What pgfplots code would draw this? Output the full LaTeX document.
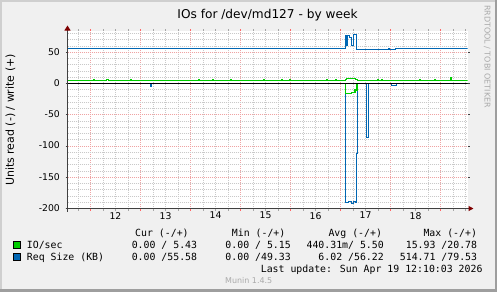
\documentclass[border=0pt]{standalone}
\usepackage{pgfplots}
\pgfplotsset{compat=1.18}
\usepackage{fontspec}
\setmainfont{DejaVu Sans}
\newfontfamily\monofont{DejaVu Sans Mono}
\usetikzlibrary{arrows.meta}
\definecolor{bgc}{HTML}{F0F0F0}
\definecolor{shadea}{HTML}{CFCFCF}
\definecolor{shadeb}{HTML}{9E9E9E}
\definecolor{mgridc}{HTML}{EFA3A3}
\definecolor{gridc}{HTML}{C9C9C9}
\definecolor{arrowc}{HTML}{7F0000}
\definecolor{axisc}{HTML}{404040}
\definecolor{iogreen}{HTML}{00CC00}
\definecolor{reqblue}{HTML}{0066B3}
\definecolor{wmark}{HTML}{AAAAAA}
\newcommand\legfont{\monofont\fontsize{9.9}{12}\selectfont}
\begin{document}
\begin{tikzpicture}[x=1bp,y=1bp]
\useasboundingbox (0,0) rectangle (497,-292);
\fill[bgc] (0,0) rectangle (497,-292);
\fill[shadea] (0,0) rectangle (2,-292);
\fill[shadea] (0,0) rectangle (497,-2);
\fill[shadeb] (494.5,0) rectangle (497,-292);
\fill[shadeb] (0,-289) rectangle (497,-292);
\begin{axis}[
  at={(67.5bp,-208.5bp)}, anchor=south west, scale only axis,
  width=400bp, height=177.5bp,
  xmin=11.54, xmax=19.54, ymin=-200, ymax=84,
  clip mode=individual,
  axis background/.style={fill=white},
  axis line style={draw=none},
  xtick={12,13,14,15,16,17,18,19}, xticklabels={},
  minor xtick={11.75,12.25,12.5,12.75,13.25,13.5,13.75,14.25,14.5,14.75,15.25,15.5,15.75,16.25,16.5,16.75,17.25,17.5,17.75,18.25,18.5,18.75,19.25,19.5},
  extra x ticks={12.5,13.5,14.5,15.5,16.5,17.5,18.5},
  extra x tick labels={12,13,14,15,16,17,18},
  extra x tick style={grid=none, major tick length=0bp},
  ytick={-200,-150,-100,-50,0,50},
  yticklabels={-200,-150,-100,-50,0,50},
  minor ytick={-190,-180,-170,-160,-140,-130,-120,-110,-90,-80,-70,-60,-40,-30,-20,-10,10,20,30,40,60,70,80},
  grid=both,
  major grid style={mgridc, line width=0.8bp, dash pattern=on 1bp off 1bp},
  minor grid style={gridc, line width=0.8bp, dash pattern=on 1bp off 1bp},
  tick align=outside,
  major tick length=2bp, minor tick length=2bp,
  major x tick style={draw=red!60!white, line width=0.8bp},
  minor x tick style={draw=gray!70, line width=0.8bp},
  major y tick style={draw=axisc, line width=0.8bp},
  minor y tick style={draw=none},
  xticklabel style={font=\fontsize{9.3}{10}\selectfont, inner sep=0pt, anchor=north, yshift=-3.5bp},
  yticklabel style={font=\fontsize{9.3}{10}\selectfont, inner sep=0pt, anchor=east, xshift=-5.5bp, yshift=0.5bp},
]
% Req size read (negative)
\addplot[draw=reqblue, line width=1bp, const plot, mark=none] coordinates {(11.54,0) (13.20,-4) (13.22,0) (17.10,-190.4) (17.16,-189) (17.21,-192) (17.25,-189) (17.29,-190.4) (17.32,-112) (17.335,0) (17.515,-87) (17.55,0) (18.01,-2.5) (18.11,0) (19.54,0)};
% Req size write
\addplot[draw=reqblue, line width=1bp, const plot, mark=none] coordinates {(11.54,56) (17.10,77) (17.115,61) (17.13,77) (17.15,77.5) (17.17,74) (17.22,61) (17.265,78) (17.32,54.4) (17.48,54) (17.55,54.4) (17.71,54) (17.83,54.4) (17.96,56) (17.985,54.4) (18.03,54.4) (18.10,56) (19.54,56)};
% IO/sec read (negative)
\addplot[draw=iogreen, line width=1.5bp, const plot, mark=none] coordinates {(11.54,0) (17.10,-16) (17.22,-14.4) (17.29,-10) (17.33,0) (19.54,0)};
% IO/sec write
\addplot[draw=iogreen, line width=1bp, const plot, mark=none] coordinates {(11.54,4.8) (12.06,6.4) (12.085,4.8) (12.31,6.4) (12.36,4.8) (12.80,6.4) (12.825,4.8) (14.16,6.4) (14.185,4.8) (14.44,6.4) (14.465,4.8) (14.80,6.4) (14.825,4.8) (15.46,6.4) (15.485,4.8) (15.82,6.4) (15.845,4.8) (15.98,6.4) (16.005,4.8) (16.72,6.4) (16.745,4.8) (16.90,6.4) (16.925,4.8) (17.10,6.4) (17.12,8) (17.30,7.2) (17.33,4.8) (17.73,6.4) (17.755,4.8) (17.82,6.4) (17.845,4.8) (18.57,6.4) (18.595,4.8) (18.88,6.4) (18.905,4.8) (19.20,9.6) (19.225,4.8) (19.54,4.8)};
% zero rule
\addplot[draw=black, line width=1bp, mark=none] coordinates {(11.54,0) (19.54,0)};
% axis lines with arrows
\draw[axisc, line width=1bp, -{Triangle[length=5bp,width=5bp,color=arrowc]}] ([xshift=-2bp]rel axis cs:0,0) -- ([xshift=6bp]rel axis cs:1,0);
\draw[axisc, line width=1bp, -{Triangle[length=5bp,width=6bp,color=arrowc]}] ([yshift=-3bp]rel axis cs:0,0) -- ([yshift=5.5bp]rel axis cs:0,1);
\end{axis}
% title
\node[anchor=base, font=\fontsize{12.2}{14}\selectfont, inner sep=0pt] at (267.5,-18.5) {IOs for /dev/md127 - by week};
% y label
\node[anchor=base, rotate=90, font=\fontsize{11}{13}\selectfont, inner sep=0pt] at (13.8,-120) {Units read (-) / write (+)};
% watermark right
\node[anchor=base, rotate=-90, font=\fontsize{8}{10}\selectfont, inner sep=0pt, text=wmark] at (484.5,-56.5) {RRDTOOL / TOBI OETIKER};
% legend
\node[anchor=base west, font=\legfont, inner sep=0pt] at (135,-236) {Cur (-/+)};
\node[anchor=base west, font=\legfont, inner sep=0pt] at (231.7,-236) {Min (-/+)};
\node[anchor=base west, font=\legfont, inner sep=0pt] at (328.3,-236) {Avg (-/+)};
\node[anchor=base west, font=\legfont, inner sep=0pt] at (423.3,-236) {Max (-/+)};
\filldraw[fill=iogreen, draw=black, line width=0.8bp] (13.7,-241.7) rectangle (20.3,-248.1);
\filldraw[fill=reqblue, draw=black, line width=0.8bp] (13.7,-253.7) rectangle (20.3,-260.1);
\node[anchor=base west, font=\legfont, inner sep=0pt] at (26.7,-248.3) {IO/sec};
\node[anchor=base west, font=\legfont, inner sep=0pt] at (26.7,-260.3) {Req Size (KB)};
\node[anchor=base east, font=\legfont, inner sep=0pt] at (197.3,-248.3) {0.00 / 5.43};
\node[anchor=base east, font=\legfont, inner sep=0pt] at (291,-248.3) {0.00 / 5.15};
\node[anchor=base east, font=\legfont, inner sep=0pt] at (384,-248.3) {440.31m/ 5.50};
\node[anchor=base east, font=\legfont, inner sep=0pt] at (477.3,-248.3) {15.93 /20.78};
\node[anchor=base east, font=\legfont, inner sep=0pt] at (197.3,-260.3) {0.00 /55.58};
\node[anchor=base east, font=\legfont, inner sep=0pt] at (291,-260.3) {0.00 /49.33};
\node[anchor=base east, font=\legfont, inner sep=0pt] at (384,-260.3) {6.02 /56.22};
\node[anchor=base east, font=\legfont, inner sep=0pt] at (477.3,-260.3) {514.71 /79.53};
\node[anchor=base east, font=\legfont, inner sep=0pt] at (482.7,-272.3) {Last update: Sun Apr 19 12:10:03 2026};
\node[anchor=base, font=\fontsize{8}{10}\selectfont, inner sep=0pt, text=wmark] at (248.7,-283.7) {Munin 1.4.5};
\end{tikzpicture}
\end{document}
